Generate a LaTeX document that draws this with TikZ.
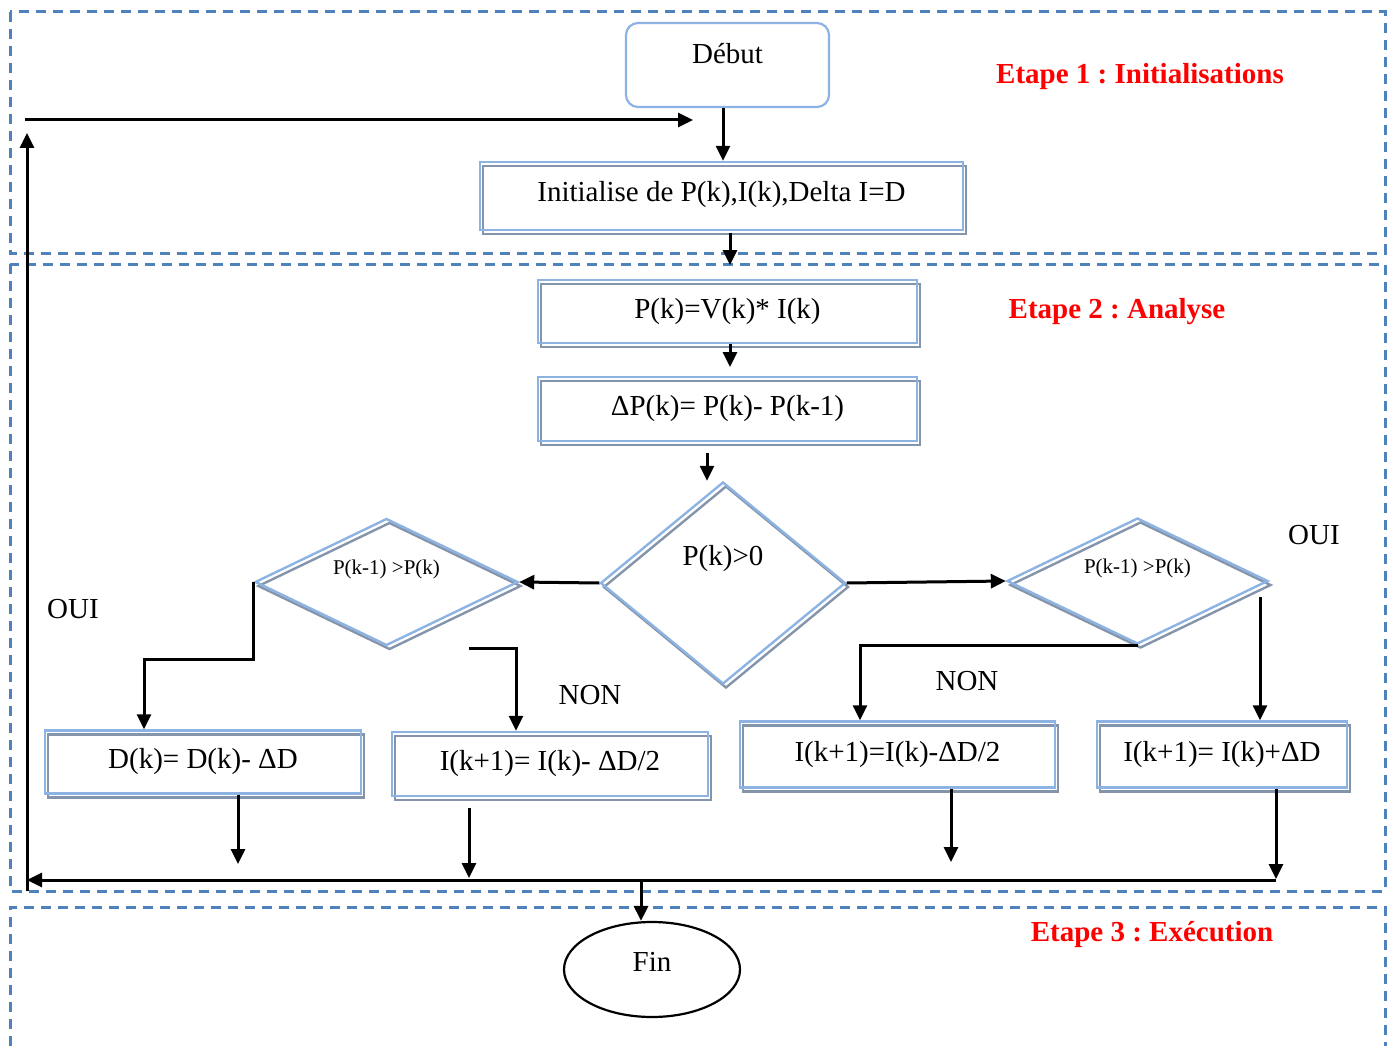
\documentclass[tikz,border=0pt]{standalone}
\usepackage{fontspec}
\setmainfont{Liberation Serif}
\usetikzlibrary{arrows.meta,shapes.geometric}
\frenchspacing

\definecolor{frameblue}{RGB}{79,129,189}
\definecolor{boxblue}{RGB}{141,179,226}
\definecolor{boxgray}{RGB}{132,148,170}
\definecolor{stagered}{RGB}{255,0,0}

\tikzset{
  big/.style={font=\fontsize{29}{34}\selectfont},
  small/.style={font=\fontsize{21}{25}\selectfont},
  frame/.style={draw=frameblue, line width=3pt, dash pattern=on 10pt off 7pt},
  twin/.style={draw=boxblue, line width=2.4pt,
    preaction={draw=boxgray, line width=2.4pt, transform canvas={shift={(3pt,-4pt)}}}},
  procbox/.style={twin, rectangle, inner sep=0pt, big},
  testbox/.style={twin, diamond, inner sep=0pt},
  arr/.style={draw=black, line width=3pt, -{Triangle[length=15pt,width=14pt]}},
  tag/.style={big, inner sep=0pt},
  stage/.style={font=\fontsize{29}{34}\selectfont\bfseries, text=stagered, inner sep=0pt},
}

\begin{document}
\begin{tikzpicture}[x=1pt, y=-1pt]
\useasboundingbox (0,0) rectangle (1387,1046);

% stage frames
\draw[frame] (10,12) rectangle (1385,253);
\draw[frame] (10,264) rectangle (1385,891);
\draw[frame] (10,1046) -- (10,907) -- (1385,907) -- (1385,1046);

% stage titles
\node[stage] (st1) at (1140,77) {Etape 1 : Initialisations};
\node[stage] (st2) at (1117,312) {Etape 2 : Analyse};
\node[stage] (st3) at (1152,935) {Etape 3 : Exécution};

% start / init
\node[draw=boxblue, line width=2.2pt, rounded corners=12pt, minimum width=203pt,
      minimum height=84pt, inner sep=0pt, big, text height=20pt, text depth=22pt]
      (debut) at (727.5,65) {Début};
\node[procbox, minimum width=483pt, minimum height=68pt, text height=21pt, text depth=10pt]
      (init) at (721.5,196) {Initialise de P(k),I(k),Delta I=D};

% analysis
\node[procbox, minimum width=379pt, minimum height=63pt] (pk) at (727.5,311.5) {P(k)=V(k)* I(k)};
\node[procbox, minimum width=379pt, minimum height=64pt] (dpk) at (727.5,409) {ΔP(k)= P(k)- P(k-1)};

\node[testbox, big, aspect=1.21, minimum width=245pt, minimum height=202pt,
      text height=20pt, text depth=56pt] (dm) at (723,583) {P(k)>0};
\node[testbox, small, aspect=2.07, minimum width=263pt, minimum height=127pt,
      text height=15pt, text depth=31pt] (dl) at (386.5,582) {P(k-1) >P(k)};
\node[testbox, small, aspect=2.07, minimum width=261pt, minimum height=126pt,
      text height=15pt, text depth=31pt] (dr) at (1137.5,581) {P(k-1) >P(k)};

\node[procbox, minimum width=316pt, minimum height=63pt] (b1) at (203,762) {D(k)= D(k)- ΔD};
\node[procbox, minimum width=316pt, minimum height=64pt] (b2) at (550,764) {I(k+1)= I(k)- ΔD/2};
\node[procbox, minimum width=315pt, minimum height=66pt] (b3) at (897.5,754.5) {I(k+1)=I(k)-ΔD/2};
\node[procbox, minimum width=250pt, minimum height=66pt] (b4) at (1222,754.5) {I(k+1)= I(k)+ΔD};

% branch labels
\node[tag] (ouil) at (73,609) {OUI};
\node[tag] (ouir) at (1314,535) {OUI};
\node[tag] (nonl) at (590,695) {NON};
\node[tag] (nonr) at (967,681) {NON};

% end
\node[draw=black, line width=2.2pt, ellipse, minimum width=176pt, minimum height=95pt,
      inner sep=0pt, big, text height=20pt, text depth=16pt] (fin) at (652,969.5) {Fin};

% helper points
\coordinate (x1) at (723,0);
\coordinate (s2) at (730,233);
\coordinate (e2) at (730,265);
\coordinate (x3) at (730,0);
\coordinate (e3) at (730,367);
\coordinate (s4) at (707,453);
\coordinate (jl) at (144,659);
\coordinate (n0) at (469,648);
\coordinate (jn) at (516,648);
\coordinate (jr) at (860,643);
\coordinate (s5) at (1260,597);
\coordinate (e6) at (238,864);
\coordinate (s7) at (469,808);
\coordinate (e7) at (469,878);
\coordinate (e8) at (951,862);
\coordinate (e9) at (1276,879);
\coordinate (br) at (1276,880);
\coordinate (bl) at (27,880);
\coordinate (vb) at (27,891);
\coordinate (vt) at (27,133);
\coordinate (h0) at (25,120);
\coordinate (h1) at (693,120);
\coordinate (fj) at (641,880);

% connectors
\draw[arr] (debut.south -| x1) -- (init.north -| x1);
\draw[arr] (s2) -- (e2);
\draw[arr] (pk.south -| x3) -- (e3);
\draw[arr] (s4) -- (s4 |- dm.north);
\draw[arr] (dm.west) -- (dl.east);
\draw[arr] (dm.east) -- (dr.west);
\draw[arr] (dl.west) |- (jl) -- (jl |- b1.north);
\draw[arr] (n0) -- (jn) -- (jn |- b2.north);
\draw[arr] (dr.south) -| (b3.north -| jr);
\draw[arr] (s5) -- (s5 |- b4.north);

\draw[arr] (b1.south -| e6) -- (e6);
\draw[arr] (s7) -- (e7);
\draw[arr] (b3.south -| e8) -- (e8);
\draw[arr] (b4.south -| e9) -- (e9);

\draw[arr] (br) -- (bl);
\draw[arr] (vb) -- (vt);
\draw[arr] (h0) -- (h1);
\draw[arr] (fj) -- (fj |- fin.north);
\end{tikzpicture}
\end{document}
